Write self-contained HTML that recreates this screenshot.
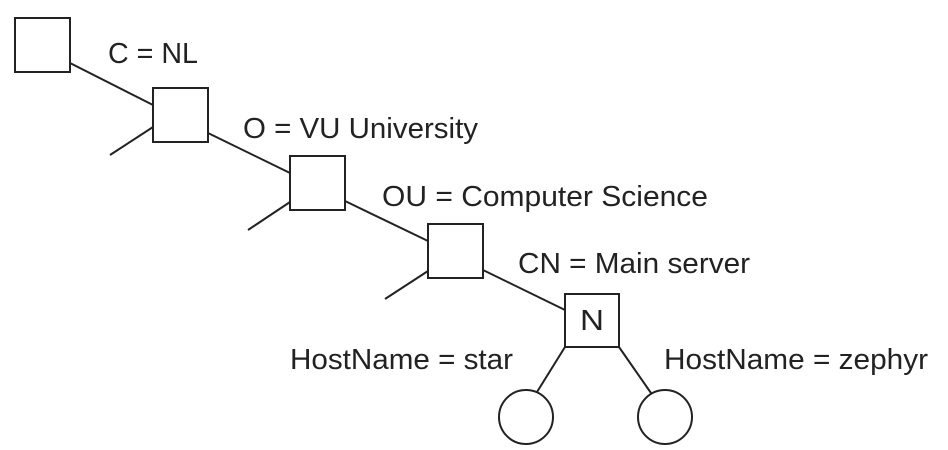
<!DOCTYPE html>
<html><head><style>html,body{margin:0;padding:0;background:#fff;}svg{display:block}</style></head>
<body>
<svg width="948" height="450" xmlns="http://www.w3.org/2000/svg">
<g fill="none" stroke="#222" stroke-width="2">
<rect x="15" y="18" width="55" height="54" fill="#fff"/>
<rect x="153" y="88" width="55" height="54" fill="#fff"/>
<rect x="290" y="156" width="55" height="54" fill="#fff"/>
<rect x="428" y="224" width="55" height="54" fill="#fff"/>
<rect x="565" y="294" width="54" height="53" fill="#fff"/>
<circle cx="526" cy="417" r="27"/>
<circle cx="665" cy="417" r="27"/>
<line x1="70" y1="63" x2="153" y2="105"/>
<line x1="153" y1="127" x2="110" y2="155"/>
<line x1="208" y1="133" x2="290" y2="173"/>
<line x1="290" y1="202" x2="248" y2="230"/>
<line x1="345" y1="201" x2="428" y2="241"/>
<line x1="428" y1="271" x2="385" y2="299"/>
<line x1="483" y1="270" x2="565" y2="310"/>
<line x1="565" y1="347" x2="537" y2="392"/>
<line x1="619" y1="347" x2="651" y2="393"/>
</g>
<g font-family="Liberation Sans, Arial, sans-serif" font-size="29" fill="#222">
<text x="108" y="63" textLength="90" lengthAdjust="spacingAndGlyphs">C = NL</text>
<text x="243" y="138" textLength="235" lengthAdjust="spacingAndGlyphs">O = VU University</text>
<text x="382" y="206" textLength="326" lengthAdjust="spacingAndGlyphs">OU = Computer Science</text>
<text x="518" y="273" textLength="232" lengthAdjust="spacingAndGlyphs">CN = Main server</text>
<text x="580" y="330" textLength="24" lengthAdjust="spacingAndGlyphs">N</text>
<text x="290" y="369" textLength="223" lengthAdjust="spacingAndGlyphs">HostName = star</text>
<text x="664" y="369" textLength="264" lengthAdjust="spacingAndGlyphs">HostName = zephyr</text>
</g>
</svg>
</body></html>
